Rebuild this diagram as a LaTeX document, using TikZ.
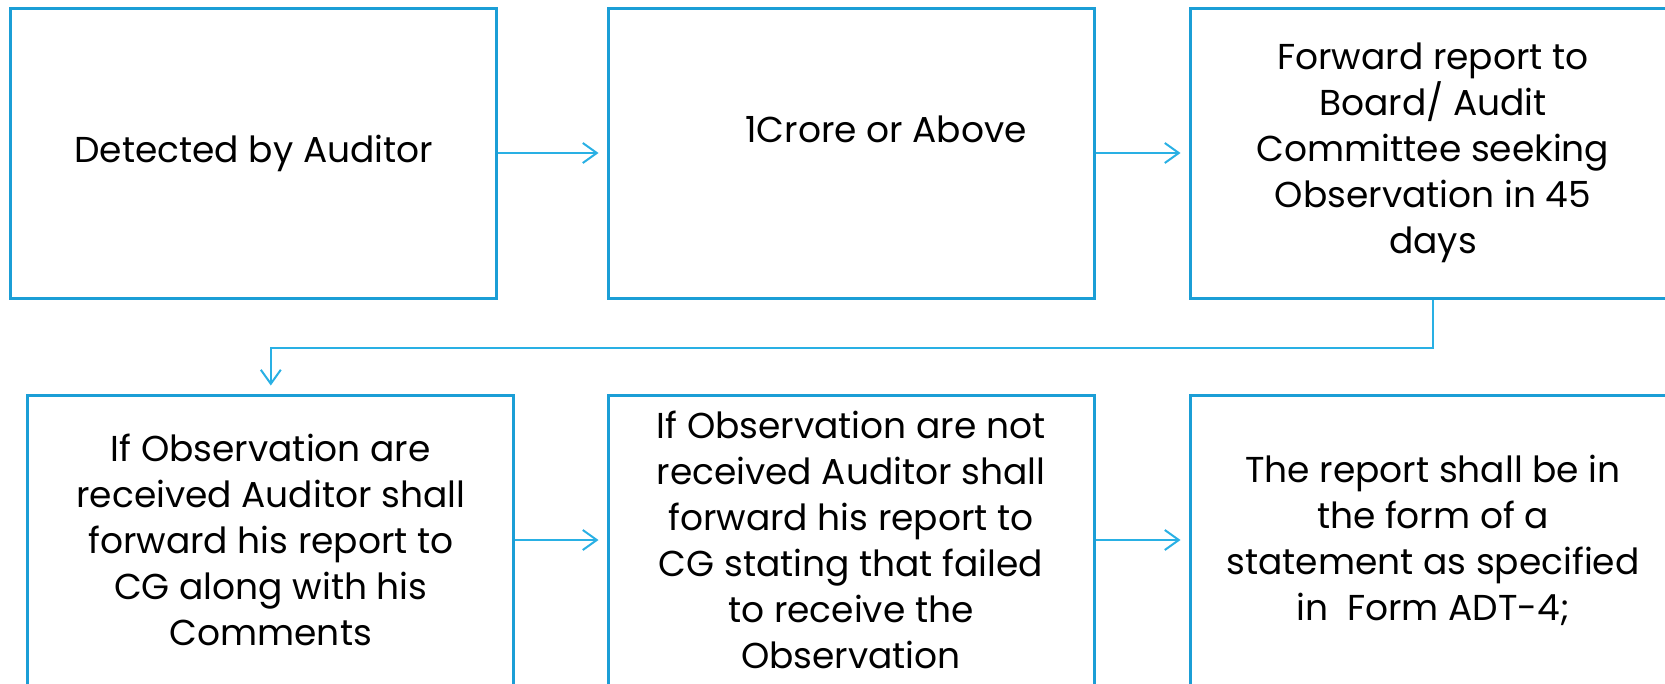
\documentclass[tikz,border=0pt]{standalone}
\usepackage{fontspec}
\setmainfont{Poppins}
\usetikzlibrary{arrows.meta}
\definecolor{boxblue}{RGB}{27,158,214}
\definecolor{linkblue}{RGB}{41,176,228}
\tikzset{
    stage/.style={draw=boxblue, line width=3pt, minimum width=486pt,
        minimum height=290pt, inner sep=0pt, align=center,
        font=\fontsize{36}{46}\selectfont},
    link/.style={draw=linkblue, line width=2pt,
        -{Straight Barb[length=14pt,width=20pt]}, shorten >=8pt}
}
\begin{document}
\begin{tikzpicture}[x=1pt,y=-1pt]
\useasboundingbox (0,0) rectangle (1665,683);
\clip (0,0) rectangle (1665,683);
% Top row
\node[stage] (detect) at (253.8,153){Detected by Auditor};
\node[stage, label={[font=\fontsize{36}{46}\selectfont, xshift=35pt, yshift=23.5pt]center:1Crore or Above}] (crore) at (851,153){};
\node[stage] (fwd) at (1433,153){Forward report to\\Board/ Audit\\Committee seeking\\Observation in 45\\days};
% Bottom row
\node[stage] (recv) at (270.8,540){If Observation are\\received Auditor shall\\forward his report to\\CG along with his\\Comments};
\node[stage] (norecv) at (851,540){If Observation are not\\received Auditor shall\\forward his report to\\CG stating that failed\\to receive the\\Observation};
\node[stage] (form) at (1433,540){The report shall be in\\the form of a\\statement as specified\\in \ Form ADT-4;};
% Links
\draw[link] (detect.east) -- (crore.west);
\draw[link] (crore.east) -- (fwd.west);
\draw[link] (fwd.south) -- ++(0,48) -| (recv.north);
\draw[link] (recv.east) -- (norecv.west);
\draw[link] (norecv.east) -- (form.west);
\end{tikzpicture}
\end{document}
